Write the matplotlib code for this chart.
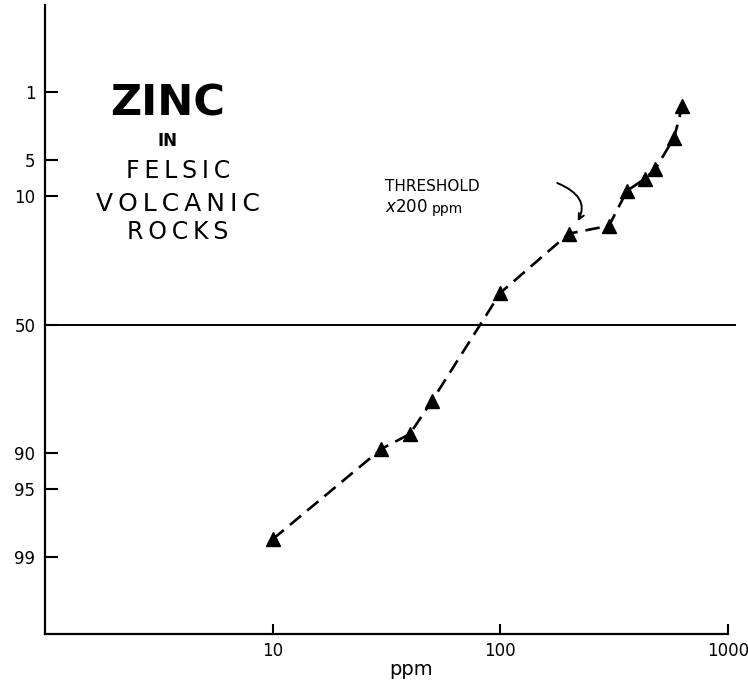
import numpy as np
import matplotlib
matplotlib.use('Agg')
import matplotlib.pyplot as plt
from matplotlib.ticker import NullLocator, FixedLocator, FixedFormatter
from statistics import NormalDist

# zinc values (ppm) and cumulative percent
zinc_ppm = [10, 30, 40, 50, 100, 200, 300, 360, 430, 480, 580, 630]
cum_pct = [98.4, 89.3, 86.3, 77.8, 37.6, 18.2, 16.2, 9.1, 7.3, 6.0, 3.1, 1.45]

x_ticks = [10, 100, 1000]
x_labels = ['10', '100', '1000']
y_ticks = [1, 5, 10, 50, 90, 95, 99]
y_labels = ['1', '5', '10', '50', '90', '95', '99']

nd = NormalDist()

def prob_fwd(p):
    # percent -> normal quantile
    p = np.clip(np.asarray(p, dtype=float), 1e-6, 100 - 1e-6) / 100.0
    return np.vectorize(nd.inv_cdf, otypes=[float])(p)

def prob_inv(z):
    z = np.asarray(z, dtype=float)
    return np.vectorize(nd.cdf, otypes=[float])(z) * 100.0


fig = plt.figure(figsize=(7.48, 6.82), dpi=100)
ax = fig.add_axes([45/748, 1 - 634/682, 683/748, 629/682])

ax.plot(zinc_ppm, cum_pct, color='black', lw=1.9, ls=(0, (5.5, 3)),
        marker='^', ms=10, mfc='black', mec='black')

ax.set_xscale('log')
ax.set_yscale('function', functions=(prob_fwd, prob_inv))
ax.set_xlim(1, 1000)
ax.set_ylim(99.9, 0.071)

ax.xaxis.set_major_locator(FixedLocator(x_ticks))
ax.xaxis.set_major_formatter(FixedFormatter(x_labels))
ax.xaxis.set_minor_locator(NullLocator())
ax.yaxis.set_major_locator(FixedLocator(y_ticks))
ax.yaxis.set_major_formatter(FixedFormatter(y_labels))
ax.yaxis.set_minor_locator(NullLocator())

ax.tick_params(axis='x', direction='in', length=7, width=1.5, labelsize=12, pad=6)
ax.tick_params(axis='y', direction='in', length=9, width=1.5, labelsize=12, pad=7)

for s in ['top', 'right']:
    ax.spines[s].set_visible(False)
for s in ['left', 'bottom']:
    ax.spines[s].set_linewidth(1.6)

# the 50% line
ax.axhline(50, xmin=0, xmax=1.01, color='black', lw=1.4, clip_on=False)

# hand lettered title block
ax.text(0.180, 0.843, 'ZINC', transform=ax.transAxes, ha='center', va='center',
        fontsize=31, fontweight='bold')
ax.text(0.180, 0.784, 'IN', transform=ax.transAxes, ha='center', va='center',
        fontsize=12, fontweight='bold')
for txt, yy, fs in [('F\u2009E\u2009L\u2009S\u2009I\u2009C', 0.736, 17),
                    ('V\u2009O\u2009L\u2009C\u2009A\u2009N\u2009I\u2009C', 0.684, 18),
                    ('R\u2009O\u2009C\u2009K\u2009S', 0.639, 17)]:
    ax.text(0.195, yy, txt, transform=ax.transAxes, ha='center', va='center',
            fontsize=fs)

# threshold note
ax.text(0.498, 0.712, 'THRESHOLD', transform=ax.transAxes, ha='left', va='center',
        fontsize=11)
ax.text(0.498, 0.679, r'$\mathit{x}$200', transform=ax.transAxes, ha='left',
        va='center', fontsize=12)
ax.text(0.566, 0.676, 'ppm', transform=ax.transAxes, ha='left', va='center',
        fontsize=10)
ax.annotate('', xy=(zinc_ppm[5], cum_pct[5]), xycoords='data',
            xytext=(0.750, 0.717), textcoords='axes fraction',
            arrowprops=dict(arrowstyle='->', color='black', lw=1.4,
                            connectionstyle='arc3,rad=-0.7',
                            shrinkA=0, shrinkB=11))

# axis label
ax.text(0.536, -0.057, 'ppm', transform=ax.transAxes, ha='center', va='center',
        fontsize=14)

fig.savefig('out.png', dpi=100)
